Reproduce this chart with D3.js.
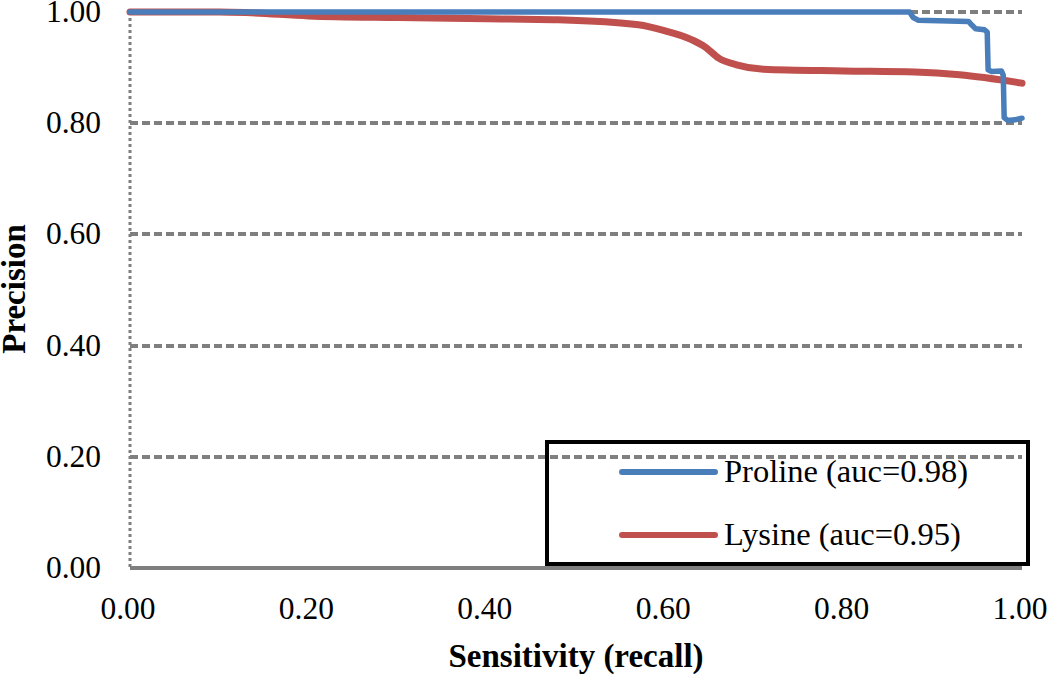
<!DOCTYPE html>
<html><head><meta charset="utf-8">
<script src="https://cdn.jsdelivr.net/npm/d3@7"></script>
<style>body{margin:0;background:#fff}svg{display:block}</style>
</head><body>
<svg id="c" width="1050" height="676"></svg>
<script>
const xTicks = [0, 0.2, 0.4, 0.6, 0.8, 1.0];
const yTicks = [0, 0.2, 0.4, 0.6, 0.8, 1.0];
const seriesNames = ["Proline (auc=0.98)", "Lysine (auc=0.95)"];
const prolineRecall    = [0, 0.874, 0.878, 0.884, 0.94, 0.944, 0.948, 0.958, 0.961, 0.962, 0.966, 0.977, 0.979, 0.980, 0.984, 0.992, 1.0];
const prolinePrecision = [1.0, 1.0, 0.99, 0.985, 0.983, 0.976, 0.970, 0.968, 0.964, 0.896, 0.893, 0.894, 0.886, 0.81, 0.805, 0.806, 0.809];
const lysineRecall     = [0, 0.10, 0.13, 0.2, 0.3, 0.4, 0.48, 0.57, 0.6, 0.63, 0.645, 0.66, 0.68, 0.71, 0.8, 0.88, 0.93, 1.0];
const lysinePrecision  = [1.0, 1.0, 0.999, 0.993, 0.990, 0.988, 0.986, 0.977, 0.966, 0.950, 0.937, 0.917, 0.905, 0.897, 0.894, 0.892, 0.887, 0.872];

const svg = d3.select("#c");
const L = 130, R = 1022, T = 12, B = 568;
const x = d3.scaleLinear().domain([0, 1]).range([L, R]);
const y = d3.scaleLinear().domain([0, 1]).range([B, T]);
const grey = "#7f7f7f";
const font = "'Liberation Serif', 'Times New Roman', serif";

// gridlines
svg.append("g").selectAll("line").data(yTicks.filter(d => d > 0)).join("line")
  .attr("x1", L).attr("x2", R).attr("y1", d => Math.round(y(d))).attr("y2", d => Math.round(y(d)))
  .attr("stroke", grey).attr("stroke-width", 4).attr("stroke-dasharray", "8,4");

// left axis (dotted)
svg.append("line").attr("x1", L).attr("x2", L).attr("y1", T).attr("y2", B)
  .attr("stroke", grey).attr("stroke-width", 3).attr("stroke-dasharray", "3,3");
// bottom axis solid
svg.append("line").attr("x1", L).attr("x2", R).attr("y1", B).attr("y2", B)
  .attr("stroke", grey).attr("stroke-width", 4);

// tick labels
const fmt = d3.format(".2f");
svg.append("g").selectAll("text").data(yTicks).join("text")
  .attr("x", 101).attr("y", d => y(d) + 10).attr("text-anchor", "end")
  .attr("font-family", font).attr("font-size", 31.5).attr("fill", "#000").text(fmt);
svg.append("g").selectAll("text").data(xTicks).join("text")
  .attr("x", d => x(d) - 2).attr("y", 619).attr("text-anchor", "middle")
  .attr("font-family", font).attr("font-size", 31.5).attr("fill", "#000").text(fmt);

// axis titles
svg.append("text").attr("x", 576).attr("y", 667).attr("text-anchor", "middle")
  .attr("font-family", font).attr("font-size", 33).attr("font-weight", "bold").text("Sensitivity (recall)");
svg.append("text").attr("transform", "translate(25,289) rotate(-90)").attr("text-anchor", "middle")
  .attr("font-family", font).attr("font-size", 33).attr("font-weight", "bold").text("Precision");

// lines
const lysData = lysineRecall.map((r, i) => [r, lysinePrecision[i]]);
const proData = prolineRecall.map((r, i) => [r, prolinePrecision[i]]);
svg.append("path").datum(lysData)
  .attr("d", d3.line().x(d => x(d[0])).y(d => y(d[1])).curve(d3.curveMonotoneX))
  .attr("fill", "none").attr("stroke", "#C0504D").attr("stroke-width", 7)
  .attr("stroke-linecap", "round").attr("stroke-linejoin", "round");
svg.append("path").datum(proData)
  .attr("d", d3.line().x(d => x(d[0])).y(d => y(d[1])).curve(d3.curveLinear))
  .attr("fill", "none").attr("stroke", "#4A7EBB").attr("stroke-width", 5.5)
  .attr("stroke-linecap", "round").attr("stroke-linejoin", "round");

// legend
svg.append("rect").attr("x", 547).attr("y", 442).attr("width", 481).attr("height", 122)
  .attr("fill", "none").attr("stroke", "#000").attr("stroke-width", 4);
const colors = ["#4A7EBB", "#C0504D"];
const lg = svg.append("g").selectAll("g").data(seriesNames).join("g")
  .attr("transform", (d, i) => `translate(0,${472 + i * 63})`);
lg.append("line").attr("x1", 622).attr("x2", 715).attr("y1", 0).attr("y2", 0)
  .attr("stroke", (d, i) => colors[i]).attr("stroke-width", 6).attr("stroke-linecap", "round");
lg.append("text").attr("x", 724).attr("y", 10).attr("font-family", font).attr("font-size", 32.5)
  .attr("fill", "#000").text(d => d);
</script>
</body></html>
